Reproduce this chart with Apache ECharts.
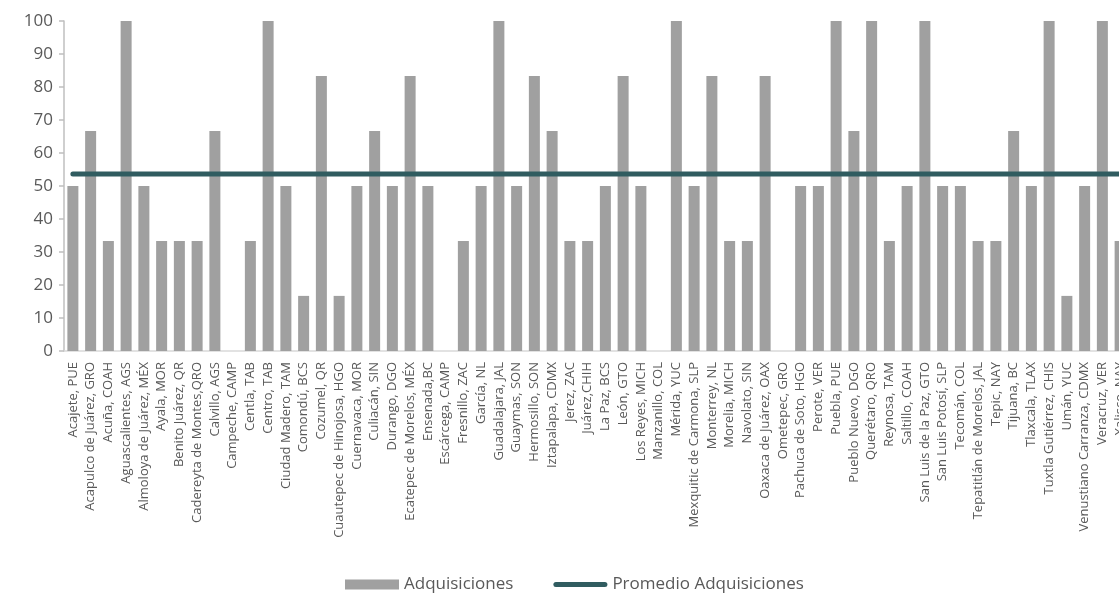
<!DOCTYPE html>
<html>
<head>
<meta charset="utf-8">
<script src="https://cdn.jsdelivr.net/npm/echarts@6/dist/echarts.min.js"></script>
<style>
html,body{margin:0;padding:0;background:#fff;}
#chart{width:1119px;height:595px;}
</style>
</head>
<body>
<div id="chart"></div>
<script>
const categories = [
  "Acajete, PUE","Acapulco de Juárez, GRO","Acuña, COAH","Aguascalientes, AGS","Almoloya de Juárez, MÉX",
  "Ayala, MOR","Benito Juárez, QR","Cadereyta de Montes,QRO","Calvillo, AGS","Campeche, CAMP",
  "Centla, TAB","Centro, TAB","Ciudad Madero, TAM","Comondú, BCS","Cozumel, QR",
  "Cuautepec de Hinojosa, HGO","Cuernavaca, MOR","Culiacán, SIN","Durango, DGO","Ecatepec de Morelos, MÉX",
  "Ensenada,BC","Escárcega, CAMP","Fresnillo, ZAC","García, NL","Guadalajara, JAL",
  "Guaymas, SON","Hermosillo, SON","Iztapalapa, CDMX","Jerez, ZAC","Juárez,CHIH",
  "La Paz, BCS","León, GTO","Los Reyes, MICH","Manzanillo, COL","Mérida, YUC",
  "Mexquitic de Carmona, SLP","Monterrey, NL","Morelia, MICH","Navolato, SIN","Oaxaca de Juárez, OAX",
  "Ometepec, GRO","Pachuca de Soto, HGO","Perote, VER","Puebla, PUE","Pueblo Nuevo, DGO",
  "Querétaro, QRO","Reynosa, TAM","Saltillo, COAH","San Luis de la Paz, GTO","San Luis Potosí, SLP",
  "Tecomán, COL","Tepatitlán de Morelos, JAL","Tepic, NAY","Tijuana, BC","Tlaxcala, TLAX",
  "Tuxtla Gutiérrez, CHIS","Umán, YUC","Venustiano Carranza, CDMX","Veracruz, VER","Xalisco, NAY"
];
const adquisiciones = [
  50, 66.7, 33.3, 100, 50,
  33.3, 33.3, 33.3, 66.7, 0,
  33.3, 100, 50, 16.7, 83.3,
  16.7, 50, 66.7, 50, 83.3,
  50, 0, 33.3, 50, 100,
  50, 83.3, 66.7, 33.3, 33.3,
  50, 83.3, 50, 0, 100,
  50, 83.3, 33.3, 33.3, 83.3,
  0, 50, 50, 100, 66.7,
  100, 33.3, 50, 100, 50,
  50, 33.3, 33.3, 66.7, 50,
  100, 16.7, 50, 100, 33.3
];
const promedioValor = 53.6;
const promedio = categories.map(() => promedioValor);
const yTicks = [0, 10, 20, 30, 40, 50, 60, 70, 80, 90, 100];

const chart = echarts.init(document.getElementById('chart'), null, {renderer: 'canvas'});
const font = "'Open Sans', 'Liberation Sans', sans-serif";
chart.setOption({
  animation: false,
  textStyle: {fontFamily: font},
  grid: {left: 64, top: 21, bottom: 244, width: 1065, outerBoundsMode: 'none', containLabel: false},
  legend: {
    left: 340, top: 571,
    itemGap: 40,
    itemWidth: 54, itemHeight: 10,
    textStyle: {fontSize: 17, color: '#595959', fontFamily: font},
    data: [
      {name: 'Adquisiciones', icon: 'rect'},
      {name: 'Promedio Adquisiciones',
       icon: 'path://M2.7,0 L51.3,0 A2.5,2.5 0 0 1 51.3,5 L2.7,5 A2.5,2.5 0 0 1 2.7,0 Z',
       itemStyle: {color: '#305c60'}}
    ]
  },
  xAxis: {
    type: 'category',
    data: categories,
    axisLine: {show: true, lineStyle: {color: '#d9d9d9', width: 1.5}},
    axisTick: {show: false},
    axisLabel: {rotate: 90, interval: 0, fontSize: 13, color: '#595959', margin: 11, fontFamily: font}
  },
  yAxis: {
    type: 'value',
    min: yTicks[0], max: yTicks[yTicks.length - 1], interval: 10,
    splitLine: {show: false},
    axisLine: {show: true, lineStyle: {color: '#bfbfbf', width: 1.5}},
    axisTick: {show: true, length: 5, lineStyle: {color: '#bfbfbf', width: 1.5}},
    axisLabel: {fontSize: 17, color: '#595959', margin: 11, fontFamily: font}
  },
  series: [
    {
      name: 'Adquisiciones',
      type: 'bar',
      data: adquisiciones,
      barWidth: 11,
      itemStyle: {color: '#a0a0a0'}
    },
    {
      name: 'Promedio Adquisiciones',
      type: 'line',
      data: promedio,
      symbol: 'none',
      lineStyle: {color: '#305c60', width: 5, cap: 'round'},
      itemStyle: {color: '#305c60'}
    }
  ]
});
</script>
</body>
</html>
